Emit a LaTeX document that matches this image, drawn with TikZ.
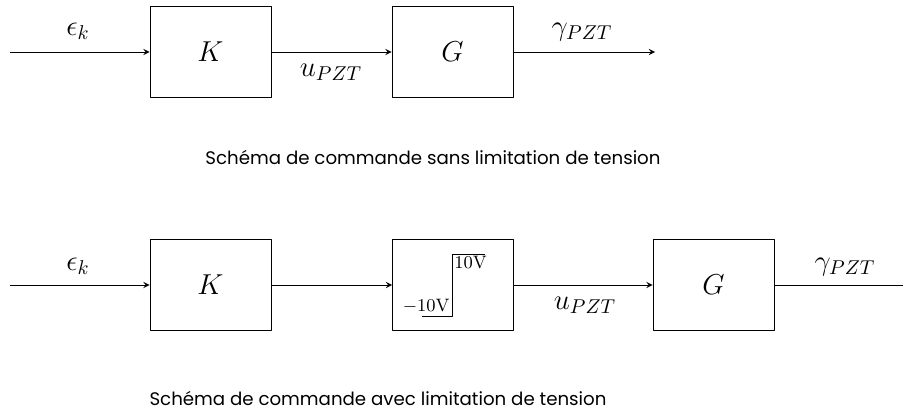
\documentclass[tikz,border=0pt]{standalone}
\usepackage{fontspec}
\newfontfamily\legende{Poppins}
\begin{document}
\begin{tikzpicture}[>=stealth,x=0.5pt,y=-0.5pt,line join=round,font=\Large,
		bloc/.style={draw,minimum width=60.5pt,minimum height=45.5pt,font=\Large},
		lim/.style={font=\small,inner sep=1pt},
		titre/.style={font=\legende\fontsize{9.1}{11}\selectfont}]
	\useasboundingbox (0,0) rectangle (903,416);
	% sans limitation
	\coordinate (e1) at (10,52);
	\node[bloc] (K1) at (210.5,52) {$K$};
	\node[bloc] (G1) at (452.5,52) {$G$};
	\coordinate (s1) at (655,52);
	\draw[->] (e1)--(K1);
	\draw[->] (K1)--(G1);
	\draw[->] (G1)--(s1);
	\node (ek1) at (78,31) {$\epsilon_k$};
	\node (u1) at (331,72) {$u_{PZT}$};
	\node (g1) at (582,32) {$\gamma_{PZT}$};
	\node[titre] (t1) at (433,157) {Schéma de commande sans limitation de tension};
	% avec limitation
	\coordinate (e2) at (10,285);
	\node[bloc] (K2) at (210.5,285) {$K$};
	\node[bloc] (sat) at (453,285) {};
	\node[bloc] (G2) at (713.5,285) {$G$};
	\coordinate (s2) at (903,285);
	\draw[->] (e2)--(K2);
	\draw[->] (K2)--(sat);
	\draw[->] (sat)--(G2);
	\draw (G2)--(s2);
	\draw (422,316)--(452,316)--(452,254)--(485,254);
	\node[lim,anchor=north west] (hi) at (452,254) {$10\mathrm{V}$};
	\node[lim,anchor=south east] (lo) at (452,316) {$-10\mathrm{V}$};
	\node (ek2) at (78,266) {$\epsilon_k$};
	\node (u2) at (585,305) {$u_{PZT}$};
	\node (g2) at (845,267) {$\gamma_{PZT}$};
	\node[titre] (t2) at (378,398) {Schéma de commande avec limitation de tension};
\end{tikzpicture}
\end{document}
